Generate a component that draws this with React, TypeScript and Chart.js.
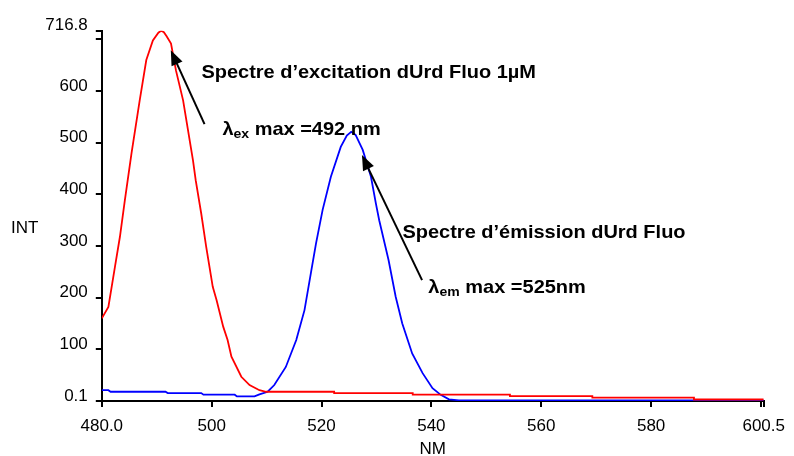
import React, { useEffect, useRef } from 'react';
import { Chart, registerables } from 'chart.js';

Chart.register(...registerables);

// ---- data ----
const excitationNm = [
  480, 481.2, 482.4, 483.3, 484.2, 485.4, 486.9, 488.1, 489.3, 490.3, 490.8, 491.3, 491.8, 492.6, 493.5,
  494.8, 496.6, 497.1, 498.1, 499.0, 500.2, 500.9, 502.1, 502.9, 503.6, 505.4, 506.9, 508.7, 509.9,
  522.3, 522.3, 536.6, 536.6, 554.3, 554.3, 569.3, 569.3, 587.8, 587.8, 600.5,
];
const excitationInt = [
  160, 182, 260, 318, 389, 479, 582, 660, 698, 713, 716.8, 714, 706, 692, 640,
  582, 466, 427, 363, 299, 221, 195, 144, 118, 86, 47, 31, 21, 18,
  18, 15.5, 15.5, 12.5, 12.5, 9.5, 9.5, 6.5, 6.5, 3, 3,
];
const emissionNm = [
  480, 481.2, 481.6, 491.6, 492.0, 498.1, 498.5, 504.2, 504.6, 507.8, 508.7, 510.2, 511.4, 513.5,
  515.4, 516.9, 518.1, 519, 520.2, 521.7, 523.5, 524.6, 525.4, 526.2, 527.5, 529, 529.9, 530.5,
  532.2, 533.5, 534.7, 536.5, 538.4, 540.2, 541.7, 543.2, 545, 600.5,
];
const emissionInt = [
  21, 21, 18, 18, 15.5, 15.5, 12.3, 12.3, 9, 9, 13, 18, 31, 66,
  118, 176, 250, 305, 370, 434, 492, 514, 521, 515, 486, 434, 382, 350,
  273, 202, 150, 92, 54, 25, 12, 3.4, 1.5, 1.5,
];

const xTickValues = [480, 500, 520, 540, 560, 580, 600, 600.5];
const xTickLabels = ['480.0', '500', '520', '540', '560', '580', '', '600.5'];
const yTickValues = [0.1, 100, 200, 300, 400, 500, 600, 700, 716.8];
const yTickLabels = ['0.1', '100', '200', '300', '400', '500', '600', '', '716.8'];

const X_MIN = 480;
const X_MAX = 600.5;
const Y_MIN = 0.1;
const Y_MAX = 716.8;

const xTitle = 'NM';
const yTitle = 'INT';

// annotations, anchored in data units (nm, INT)
const arrowTails = [
  [498.7, 536],
  [538.3, 234],
];
const arrowTips = [
  [492.56, 679],
  [527.36, 476],
];

type Part = { t: string; sub?: boolean };
const labelParts: Part[][] = [
  [{ t: 'Spectre d’excitation dUrd Fluo 1µM' }],
  [{ t: 'λ' }, { t: 'ex', sub: true }, { t: ' max =492 nm' }],
  [{ t: 'Spectre d’émission dUrd Fluo' }],
  [{ t: 'λ' }, { t: 'em', sub: true }, { t: ' max =525nm' }],
];
const labelAnchors = [
  [498.13, 624.4],
  [501.95, 514.7],
  [534.73, 314.9],
  [539.45, 208.5],
];

const FONT = "'Liberation Sans', Arial, Helvetica, sans-serif";

const annotationPlugin = {
  id: 'spectraAnnotations',
  afterDraw(chart: any) {
    const ctx: CanvasRenderingContext2D = chart.ctx;
    const xs = chart.scales.x;
    const ys = chart.scales.y;
    ctx.save();

    // arrows
    ctx.strokeStyle = '#000';
    ctx.fillStyle = '#000';
    ctx.lineWidth = 2;
    for (let i = 0; i < arrowTips.length; i++) {
      const tx = xs.getPixelForValue(arrowTails[i][0]);
      const ty = ys.getPixelForValue(arrowTails[i][1]);
      const hx = xs.getPixelForValue(arrowTips[i][0]);
      const hy = ys.getPixelForValue(arrowTips[i][1]);
      const dx = hx - tx;
      const dy = hy - ty;
      const len = Math.sqrt(dx * dx + dy * dy);
      const ux = dx / len;
      const uy = dy / len;
      const headLen = 15;
      const halfW = 6;
      const bx = hx - ux * headLen;
      const by = hy - uy * headLen;
      ctx.beginPath();
      ctx.moveTo(tx, ty);
      ctx.lineTo(bx + ux * 2, by + uy * 2);
      ctx.stroke();
      ctx.beginPath();
      ctx.moveTo(hx, hy);
      ctx.lineTo(bx - uy * halfW, by + ux * halfW);
      ctx.lineTo(bx + uy * halfW, by - ux * halfW);
      ctx.closePath();
      ctx.fill();
    }

    // bold labels
    ctx.textBaseline = 'alphabetic';
    ctx.textAlign = 'left';
    const stretch = 1.08;
    for (let i = 0; i < labelParts.length; i++) {
      const px = xs.getPixelForValue(labelAnchors[i][0]);
      const py = ys.getPixelForValue(labelAnchors[i][1]);
      ctx.save();
      ctx.translate(px, py);
      ctx.scale(stretch, 1);
      let cx = 0;
      for (const p of labelParts[i]) {
        ctx.font = p.sub ? `bold 13px ${FONT}` : `bold 18.5px ${FONT}`;
        ctx.fillText(p.t, cx, p.sub ? 3 : 0);
        cx += ctx.measureText(p.t).width;
      }
      ctx.restore();
    }

    // axis titles
    ctx.font = `17px ${FONT}`;
    ctx.textAlign = 'left';
    ctx.fillText(yTitle, 11, (chart.chartArea.top + chart.chartArea.bottom) / 2 + 17.5);
    ctx.textAlign = 'center';
    ctx.fillText(xTitle, (chart.chartArea.left + chart.chartArea.right) / 2, chart.height - 2.5);

    ctx.restore();
  },
};

export default function App() {
  const canvasRef = useRef<HTMLCanvasElement | null>(null);

  useEffect(() => {
    const canvas = canvasRef.current;
    if (!canvas) return;
    const tickFont = { family: FONT, size: 17 };
    const chart = new Chart(canvas, {
      type: 'line',
      data: {
        datasets: [
          {
            label: 'Excitation',
            data: excitationNm.map((x, i) => ({ x, y: excitationInt[i] })),
            borderColor: '#ff0000',
            borderWidth: 1.8,
            pointRadius: 0,
            tension: 0,
            fill: false,
          },
          {
            label: 'Emission',
            data: emissionNm.map((x, i) => ({ x, y: emissionInt[i] })),
            borderColor: '#0000ff',
            borderWidth: 1.8,
            pointRadius: 0,
            tension: 0,
            fill: false,
          },
        ],
      },
      options: {
        animation: false,
        responsive: false,
        devicePixelRatio: 1,
        layout: { padding: { top: 30.7, right: 28.4, bottom: 0, left: 0 } },
        plugins: {
          legend: { display: false },
          tooltip: { enabled: false },
        },
        scales: {
          x: {
            type: 'linear',
            min: X_MIN,
            max: X_MAX,
            afterBuildTicks: (scale: any) => {
              scale.ticks = xTickValues.map((v) => ({ value: v }));
            },
            afterFit: (scale: any) => {
              scale.height = 55;
            },
            ticks: {
              autoSkip: false,
              maxRotation: 0,
              color: '#000',
              font: tickFont,
              padding: 9,
              callback: (value: any) => {
                const idx = xTickValues.indexOf(Number(value));
                return idx >= 0 ? xTickLabels[idx] : '';
              },
            },
            grid: {
              drawOnChartArea: false,
              drawTicks: true,
              tickLength: 6,
              color: '#000',
              lineWidth: 2,
            },
            border: { display: true, color: '#000', width: 2 },
          },
          y: {
            type: 'linear',
            min: Y_MIN,
            max: Y_MAX,
            afterBuildTicks: (scale: any) => {
              scale.ticks = yTickValues.map((v) => ({ value: v }));
            },
            afterFit: (scale: any) => {
              scale.width = 101.8;
            },
            ticks: {
              autoSkip: false,
              color: '#000',
              font: tickFont,
              padding: 8,
              labelOffset: -5,
              callback: (value: any) => {
                const idx = yTickValues.indexOf(Number(value));
                return idx >= 0 ? yTickLabels[idx] : '';
              },
            },
            grid: {
              drawOnChartArea: false,
              drawTicks: true,
              tickLength: 6,
              color: '#000',
              lineWidth: 2,
            },
            border: { display: true, color: '#000', width: 2 },
          },
        },
      },
      plugins: [annotationPlugin],
    });
    return () => chart.destroy();
  }, []);

  return (
    <div style={{ position: 'absolute', left: 0, top: 0, width: 794, height: 456, background: '#fff' }}>
      <canvas ref={canvasRef} width={794} height={456} style={{ display: 'block', width: 794, height: 456 }} />
    </div>
  );
}
